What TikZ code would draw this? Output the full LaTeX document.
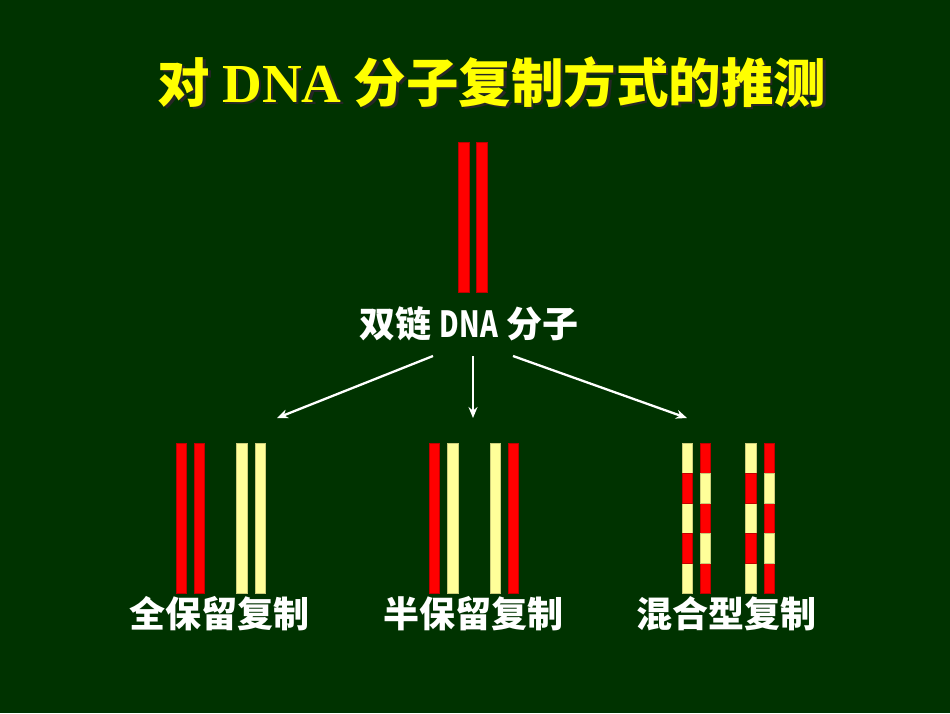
\documentclass[tikz,border=0pt]{standalone}
\usepackage{graphicx}
\usepackage{fontspec}
\usetikzlibrary{arrows.meta}
\newfontfamily\cjk{Noto Sans CJK SC}
\newfontfamily\serifb{Liberation Serif}
\definecolor{bg}{RGB}{0,51,0}
\definecolor{dnared}{RGB}{255,0,0}
\definecolor{dnayel}{RGB}{255,255,153}
\definecolor{titleyel}{RGB}{255,255,0}
\tikzset{
  redbar/.style={fill=dnared, draw=dnared!75!black, line width=0.5pt},
  yelbar/.style={fill=dnayel, draw=dnayel!80!black, line width=0.4pt},
  lbl/.style={text=white, inner sep=0pt, anchor=base, font=\cjk\bfseries\fontsize{36}{40}\selectfont},
  ttl/.style={inner sep=0pt, anchor=base, font=\cjk\bfseries\fontsize{52.5}{56}\selectfont},
  arr/.style={draw=white, line width=2.3pt, -{Stealth[length=11pt,width=9pt]}}
}
\newcommand{\titletext}{对 {\serifb\bfseries\fontsize{55}{56}\selectfont DNA} 分子复制方式的推测}
\newcommand{\shadowed}[1]{\makebox[0pt][l]{\raisebox{-2.5pt}{\hspace{2.5pt}\textcolor{black!85}{#1}}}\textcolor{titleyel}{#1}}
\begin{document}
\begin{tikzpicture}[x=1pt,y=-1pt]
\fill[bg] (0,0) rectangle (950,713);
\useasboundingbox (0,0) rectangle (950,713);
% title with shadow
\node[ttl] (ttl) at (492,102) {\shadowed{\titletext}};
% parent double strand
\draw[redbar] (458,142) rectangle (469,292);
\draw[redbar] (476,142) rectangle (487,292);
\node[lbl] (mol) at (469,337.5) {双链 \scalebox{0.75}[1]{DNA} 分子};
% arrows
\coordinate (s1) at (433,356);
\coordinate (s2) at (473,356);
\coordinate (s3) at (513,356);
\coordinate (e1) at (277,418);
\coordinate (e2) at (473,418);
\coordinate (e3) at (687,418);
\draw[arr] (s1) -- (e1);
\draw[arr] (s2) -- (e2);
\draw[arr] (s3) -- (e3);
% conservative
\draw[redbar] (176,443) rectangle (186,593);
\draw[redbar] (194,443) rectangle (204,593);
\draw[yelbar] (236.5,443) rectangle (247,593);
\draw[yelbar] (255,443) rectangle (265.5,593);
% semi-conservative
\draw[redbar] (429.5,443) rectangle (439.5,593);
\draw[yelbar] (447.5,443) rectangle (458,593);
\draw[yelbar] (490,443) rectangle (500,593);
\draw[redbar] (508,443) rectangle (518.5,593);
% dispersive
\foreach \x/\ca/\cb in {682/yelbar/redbar, 700/redbar/yelbar, 745.5/yelbar/redbar, 764/redbar/yelbar}{
  \foreach \i in {0,2,4} \draw[\ca] (\x,443.5+\i*29.9) rectangle ++(10.5,29.9);
  \foreach \i in {1,3} \draw[\cb] (\x,443.5+\i*29.9) rectangle ++(10.5,29.9);
}
% labels
\node[lbl] (l1) at (219,627.5) {全保留复制};
\node[lbl] (l2) at (473.5,627.5) {半保留复制};
\node[lbl] (l3) at (726,627.5) {混合型复制};
\end{tikzpicture}
\end{document}
